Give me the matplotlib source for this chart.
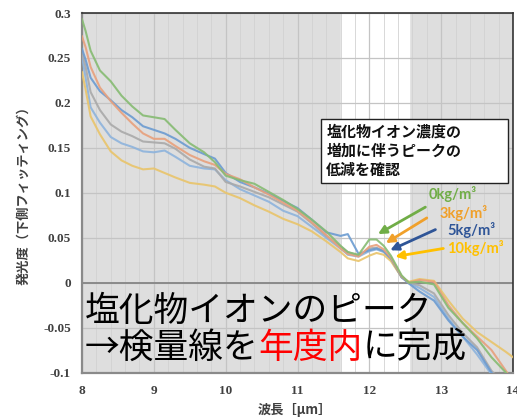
import matplotlib
matplotlib.use("Agg")
import matplotlib.pyplot as plt
from matplotlib.patches import Rectangle

JP = ["Noto Sans CJK JP", "DejaVu Sans"]

# wavelength [um] and emission (lower-side fitting) for each sample
wavelength = [8.0, 8.05, 8.12, 8.25, 8.4, 8.55, 8.7, 8.85, 9.0, 9.15, 9.3, 9.5,
              9.7, 9.85, 10.0, 10.2, 10.4, 10.6, 10.8, 11.0, 11.2, 11.4, 11.6,
              11.7, 11.85, 12.0, 12.1, 12.2, 12.3, 12.45, 12.55, 12.7, 12.9,
              13.1, 13.3, 13.5, 13.7, 13.9, 14.0]

cl_0kg = [0.293, 0.280, 0.258, 0.236, 0.224, 0.208, 0.196, 0.186, 0.184, 0.182,
          0.170, 0.155, 0.145, 0.134, 0.119, 0.114, 0.110, 0.101, 0.092, 0.082,
          0.070, 0.057, 0.041, 0.034, 0.031, 0.048, 0.048, 0.041, 0.030, 0.008,
          0.000, 0.001, -0.002, -0.028, -0.045, -0.062, -0.083, -0.100, -0.110]
cl_3kg = [0.274, 0.262, 0.240, 0.217, 0.202, 0.189, 0.177, 0.166, 0.160, 0.160,
          0.152, 0.142, 0.135, 0.131, 0.121, 0.115, 0.106, 0.098, 0.089, 0.080,
          0.067, 0.053, 0.038, 0.032, 0.029, 0.040, 0.042, 0.037, 0.028, 0.007,
          0.000, 0.003, 0.001, -0.025, -0.045, -0.060, -0.075, -0.098, -0.110]
cl_5kg = [0.260, 0.248, 0.228, 0.213, 0.203, 0.192, 0.184, 0.174, 0.170, 0.166,
          0.160, 0.150, 0.143, 0.138, 0.122, 0.112, 0.106, 0.099, 0.091, 0.083,
          0.070, 0.056, 0.052, 0.054, 0.032, 0.036, 0.038, 0.035, 0.027, 0.006,
          -0.001, -0.010, -0.020, -0.042, -0.060, -0.075, -0.100, -0.120, -0.130]
cl_10kg = [0.234, 0.215, 0.185, 0.165, 0.146, 0.136, 0.130, 0.126, 0.127, 0.122,
           0.117, 0.111, 0.109, 0.107, 0.100, 0.094, 0.086, 0.079, 0.071, 0.065,
           0.057, 0.046, 0.034, 0.027, 0.024, 0.030, 0.033, 0.031, 0.024, 0.006,
           0.001, 0.004, 0.002, -0.020, -0.040, -0.055, -0.066, -0.077, -0.083]
sample_a = [0.256, 0.240, 0.212, 0.192, 0.176, 0.168, 0.163, 0.157, 0.156, 0.155,
            0.149, 0.137, 0.129, 0.127, 0.112, 0.107, 0.101, 0.095, 0.087, 0.079,
            0.066, 0.052, 0.040, 0.034, 0.030, 0.038, 0.039, 0.035, 0.026, 0.006,
            0.000, -0.003, -0.012, -0.036, -0.056, -0.072, -0.098, -0.115, -0.125]
sample_b = [0.252, 0.228, 0.195, 0.178, 0.162, 0.155, 0.151, 0.146, 0.145, 0.147,
            0.140, 0.130, 0.127, 0.126, 0.114, 0.104, 0.097, 0.090, 0.080, 0.074,
            0.062, 0.050, 0.038, 0.031, 0.029, 0.035, 0.037, 0.034, 0.026, 0.006,
            0.000, -0.006, -0.016, -0.040, -0.060, -0.080, -0.102, -0.120, -0.130]

curves = [
    (sample_b, "#8db3dc"),
    (sample_a, "#a9a9a9"),
    (cl_10kg, "#e9c46a"),
    (cl_5kg, "#6b9bd1"),
    (cl_3kg, "#e8a07c"),
    (cl_0kg, "#86bb72"),
]

labels = ["0kg/m³", "3kg/m³", "5kg/m³", "10kg/m³"]
label_colors = ["#70ad47", "#f0a02a", "#2f5597", "#ffc000"]
label_pos = [(12.82, 0.099), (12.98, 0.078), (13.08, 0.058), (13.08, 0.038)]
arrow_tail = [(12.78, 0.084), (12.80, 0.072), (12.92, 0.059), (13.03, 0.038)]
arrow_head = [(12.12, 0.054), (12.23, 0.044), (12.29, 0.036), (12.36, 0.029)]

yticks = [-0.1, -0.05, 0, 0.05, 0.1, 0.15, 0.2, 0.25, 0.3]
ytick_labels = ["-0.1", "-0.05", "0", "0.05", "0.1", "0.15", "0.2", "0.25", "0.3"]
xticks = [8, 9, 10, 11, 12, 13, 14]

fig = plt.figure(figsize=(5.17, 4.19), dpi=100)
ax = fig.add_axes([82 / 517, 1 - 372.5 / 419, 431 / 517, 359.5 / 419])
ax.set_facecolor("#dedede")
ax.axvspan(11.6, 12.55, color="white", zorder=0)

ax.set_xlim(8, 14)
ax.set_ylim(-0.1, 0.3)
ax.set_xticks(xticks)
ax.set_xticks([x / 5 for x in range(40, 71)], minor=True)
ax.set_yticks(yticks)
ax.set_yticklabels(ytick_labels)
ax.set_axisbelow(True)
ax.grid(which="major", color="#c4c4c4", lw=0.9)
ax.grid(which="minor", axis="x", color="#d2d2d2", lw=0.6)
ax.axhline(0, color="#8a8a8a", lw=1.4, zorder=1)
ax.tick_params(which="both", length=0)
ax.tick_params(axis="y", pad=8)
ax.tick_params(axis="x", pad=9)
for t in ax.get_xticklabels() + ax.get_yticklabels():
    t.set_fontfamily("Liberation Serif")
    t.set_fontweight("bold")
    t.set_fontsize(9.5)
    t.set_color("#404040")
for side in ["top", "right"]:
    ax.spines[side].set_color("#333333")
    ax.spines[side].set_linewidth(1.2)
for side in ["left", "bottom"]:
    ax.spines[side].set_color("#8a8a8a")
    ax.spines[side].set_linewidth(1.6)

for ys, c in curves:
    ax.plot(wavelength, ys, color=c, lw=1.5, alpha=0.9, zorder=3)

# callout box
ax.add_patch(Rectangle((11.33, 0.111), 2.6, 0.071, facecolor="white",
                       edgecolor="#222222", lw=1.0, zorder=5))
ax.text(11.40, 0.1465, "塩化物イオン濃度の\n増加に伴うピークの\n低減を確認",
        family=JP, fontsize=10.8, fontweight="bold", va="center", ha="left",
        linespacing=1.25, color="#111111", zorder=6)

for lab, col, pos, tail, head in zip(labels, label_colors, label_pos,
                                     arrow_tail, arrow_head):
    ax.text(pos[0], pos[1], lab, color=col, fontsize=10.5, fontweight="bold",
            family=["Lato", "DejaVu Sans"], va="center", ha="left", zorder=6)
    ax.annotate("", xy=head, xytext=tail,
                arrowprops=dict(arrowstyle="-|>", color=col, lw=2.0,
                                mutation_scale=12, shrinkA=0, shrinkB=0),
                zorder=6)

# overlay message
fig.text(85 / 517, 1 - 311 / 419, "塩化物イオンのピーク", family=JP,
         fontsize=25, va="center", ha="left", color="black")
fig.canvas.draw()
renderer = fig.canvas.get_renderer()
x0 = 85
parts = [("→検量線を", "black"), ("年度内", "#ff0000"), ("に完成", "black")]
for s, col in parts:
    t = fig.text(x0 / 517, 1 - 348 / 419, s, family=JP, fontsize=25,
                 va="center", ha="left", color=col)
    x0 += t.get_window_extent(renderer).width

fig.text(23 / 517, 1 - 192 / 419, "発光度（下側フィッティング）", family=JP,
         fontsize=9.5, fontweight="bold", rotation=90, va="center",
         ha="center", color="#404040")
fig.text(295 / 517, 1 - 410 / 419, "波長［μm］", family=JP, fontsize=9.5,
         fontweight="bold", va="center", ha="center", color="#404040")

fig.savefig("out.png", dpi=100)
